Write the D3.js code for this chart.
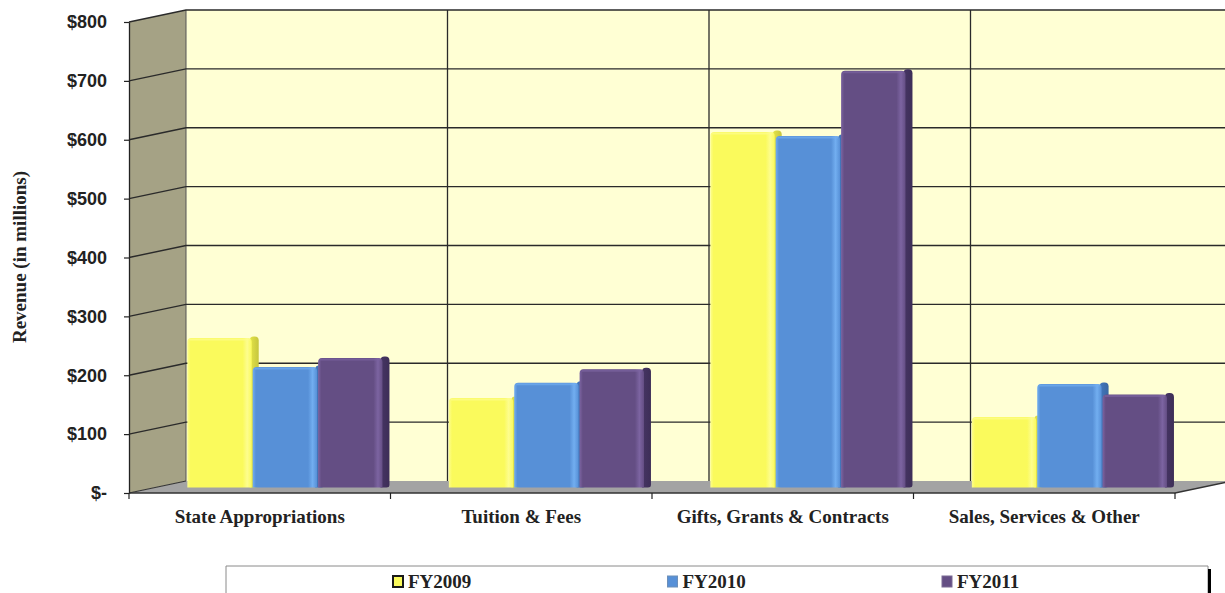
<!DOCTYPE html>
<html>
<head>
<meta charset="utf-8">
<script src="https://cdn.jsdelivr.net/npm/d3@7"></script>
<style>
  html, body { margin: 0; padding: 0; background: #fff; }
  svg { display: block; }
</style>
</head>
<body>
<svg id="chart" width="1225" height="593"></svg>
<script>
// Revenue by source, in millions of dollars
const categories = ["State Appropriations", "Tuition & Fees", "Gifts, Grants & Contracts", "Sales, Services & Other"];
const seriesNames = ["FY2009", "FY2010", "FY2011"];
const fy2009 = [254, 152, 604, 120];
const fy2010 = [205, 178, 597, 176];
const fy2011 = [220, 201, 708, 158];
const tickValues = [0, 100, 200, 300, 400, 500, 600, 700, 800];
const tickLabels = ["$-", "$100", "$200", "$300", "$400", "$500", "$600", "$700", "$800"];

// bar colours: body, highlight strip, side face, legend border
const bodyColors = ["#fafa5c", "#5790d7", "#644e84"];
const lightColors = ["#fdfd8e", "#72aef0", "#7c64a1"];
const sideColors = ["#c6c63e", "#3a68a4", "#3d2e57"];
const keyBorders = ["#1a1a1a", "#6d8fb8", "#7a6b94"];

const values = [fy2009, fy2010, fy2011];

const svg = d3.select("#chart");
const W = 1225, H = 593;

// plot frame (front plane) and 3-D depth offset of the back wall
const plotLeft = 129, plotRight = 1175, plotBottom = 493, plotTop = 22;
const depthX = 57, depthY = 12;
const barDepth = 0.45; // bars stand part-way into the floor

const y = d3.scaleLinear().domain([0, 800]).range([plotBottom, plotTop]);
const x = d3.scaleBand().domain(categories).range([plotLeft, plotRight])
  .paddingInner(0.25).paddingOuter(0.125);
const xs = d3.scaleBand().domain(seriesNames).range([0, x.bandwidth()]);

const back = (px, py) => [px + depthX, py - depthY];

// ---- gradients for bars
const defs = svg.append("defs");
seriesNames.forEach((s, i) => {
  const g = defs.append("linearGradient").attr("id", "front" + i)
    .attr("x1", 0).attr("x2", 1).attr("y1", 0).attr("y2", 0);
  g.append("stop").attr("offset", "0%").attr("stop-color", lightColors[i]);
  g.append("stop").attr("offset", "5%").attr("stop-color", bodyColors[i]);
  g.append("stop").attr("offset", "86%").attr("stop-color", bodyColors[i]);
  g.append("stop").attr("offset", "93%").attr("stop-color", lightColors[i]);
  g.append("stop").attr("offset", "100%").attr("stop-color", bodyColors[i]);
  const sg = defs.append("linearGradient").attr("id", "side" + i)
    .attr("x1", 0).attr("x2", 1).attr("y1", 0).attr("y2", 0);
  sg.append("stop").attr("offset", "0%").attr("stop-color", d3.color(sideColors[i]).brighter(0.4));
  sg.append("stop").attr("offset", "100%").attr("stop-color", sideColors[i]);
});

// ---- walls and floor
const wallG = svg.append("g");
const [bl0x, bl0y] = back(plotLeft, y(0));
const [bltx, blty] = back(plotLeft, y(800));

// back wall
wallG.append("rect")
  .attr("x", bl0x).attr("y", blty)
  .attr("width", W - bl0x + 60).attr("height", bl0y - blty)
  .attr("fill", "#ffffd4");

// left side wall
wallG.append("path")
  .attr("d", d3.line()([[plotLeft, y(800)], [bltx, blty], [bl0x, bl0y], [plotLeft, y(0)]]) + "Z")
  .attr("fill", "#a5a285");

// floor
const [brx, bry] = back(plotRight, y(0));
wallG.append("path")
  .attr("d", d3.line()([[plotLeft, y(0)], [plotRight, y(0)], [brx, bry], [bl0x, bl0y]]) + "Z")
  .attr("fill", "#a3a3a3");

// vertical dividers on the back wall at category boundaries
const boundaries = d3.range(categories.length + 1).map(i => plotLeft + i * x.step());
boundaries.slice(1).forEach(bx => {
  const [vx, vy0] = back(bx, y(0));
  const [, vy1] = back(bx, y(800));
  wallG.append("line")
    .attr("x1", vx).attr("x2", vx).attr("y1", vy0).attr("y2", vy1)
    .attr("stroke", "#2a2a2a").attr("stroke-width", 1.3);
});

// back wall left edge
wallG.append("line")
  .attr("x1", bl0x).attr("x2", bl0x).attr("y1", bl0y).attr("y2", blty)
  .attr("stroke", "#555").attr("stroke-width", 1);

// horizontal gridlines: across the left wall and along the back wall
tickValues.filter(v => v > 0).forEach(v => {
  const [gx, gy] = back(plotLeft, y(v));
  wallG.append("path")
    .attr("d", d3.line()([[plotLeft, y(v)], [gx, gy], [W + 10, gy]]))
    .attr("fill", "none").attr("stroke", "#2a2a2a").attr("stroke-width", 1.4);
});

// floor front edge and right slant
wallG.append("path")
  .attr("d", d3.line()([[plotLeft, y(0)], [plotRight, y(0)], [brx, bry]]))
  .attr("fill", "none").attr("stroke", "#333").attr("stroke-width", 1.3);
wallG.append("line")
  .attr("x1", plotLeft).attr("x2", bl0x).attr("y1", y(0)).attr("y2", bl0y)
  .attr("stroke", "#333").attr("stroke-width", 1.2);

// ---- value axis
const yAxis = d3.axisLeft(y)
  .tickValues(tickValues)
  .tickFormat((d, i) => tickLabels[i])
  .tickSizeInner(5).tickSizeOuter(0).tickPadding(17);
const yAxisG = svg.append("g").attr("transform", `translate(${plotLeft},0)`).call(yAxis);
yAxisG.select(".domain").attr("stroke", "#222").attr("stroke-width", 1.3);
yAxisG.selectAll(".tick line").attr("stroke", "#222").attr("stroke-width", 1.2);
yAxisG.selectAll(".tick text")
  .attr("font-family", "'Liberation Sans', Arial, sans-serif")
  .attr("font-weight", "bold").attr("font-size", 18).attr("fill", "#222");

// ---- category axis (labels centred on groups, ticks on boundaries)
const xAxis = d3.axisBottom(x).tickSize(0).tickPadding(16.5);
const xAxisG = svg.append("g").attr("transform", `translate(0,${plotBottom})`).call(xAxis);
xAxisG.select(".domain").remove();
xAxisG.selectAll(".tick text")
  .attr("font-family", "'Liberation Serif', 'Times New Roman', serif")
  .attr("font-weight", "bold").attr("font-size", 19).attr("fill", "#222");
xAxisG.selectAll(".boundary").data(boundaries).enter().append("line")
  .attr("class", "boundary")
  .attr("x1", d => d).attr("x2", d => d).attr("y1", 0).attr("y2", 6)
  .attr("stroke", "#222").attr("stroke-width", 1.2);

// value axis title
svg.append("text")
  .attr("transform", "translate(26,257) rotate(-90)")
  .attr("text-anchor", "middle")
  .attr("font-family", "'Liberation Serif', 'Times New Roman', serif")
  .attr("font-weight", "bold").attr("font-size", 19).attr("fill", "#222")
  .text("Revenue (in millions)");

// ---- bars
const bdx = barDepth * depthX, bdy = barDepth * depthY;
const sideW = 7, sideRise = 1.5;
const barsG = svg.append("g");
categories.forEach((cat, ci) => {
  seriesNames.forEach((s, si) => {
    const v = values[si][ci];
    const x0 = x(cat) + xs(s) + bdx;
    const w = xs.bandwidth() - 1;
    const yb = y(0) - bdy;
    const yt = y(v) - bdy;
    const r = 4;
    const g = barsG.append("g");
    // right side face
    g.append("path")
      .attr("d", `M${x0 + w - 2},${yb} L${x0 + w - 2},${yt - sideRise + r}
                  Q${x0 + w - 2},${yt - sideRise} ${x0 + w + 2},${yt - sideRise}
                  L${x0 + w + sideW - r},${yt - sideRise}
                  Q${x0 + w + sideW},${yt - sideRise} ${x0 + w + sideW},${yt - sideRise + r}
                  L${x0 + w + sideW},${yb - sideRise - 1}
                  Q${x0 + w + sideW},${yb} ${x0 + w + sideW - 3},${yb} Z`)
      .attr("fill", `url(#side${si})`);
    // front face
    g.append("path")
      .attr("d", `M${x0},${yb} L${x0},${yt + r} Q${x0},${yt} ${x0 + r},${yt}
                  L${x0 + w - r},${yt} Q${x0 + w},${yt} ${x0 + w},${yt + r}
                  L${x0 + w},${yb} Z`)
      .attr("fill", `url(#front${si})`);
    // soft top highlight
    g.append("path")
      .attr("d", `M${x0 + 2},${yt + 1.5} L${x0 + w - 2},${yt + 1.5}`)
      .attr("stroke", lightColors[si]).attr("stroke-width", 2).attr("opacity", 0.7);
  });
});

// ---- legend
const legendG = svg.append("g");
const lgLeft = 226, lgRight = 1208, lgTop = 566;
legendG.append("path")
  .attr("d", d3.line()([[lgLeft, H + 5], [lgLeft, lgTop], [lgRight, lgTop], [lgRight, H + 5]]))
  .attr("fill", "#fff").attr("stroke", "#8a8a8a").attr("stroke-width", 1);
legendG.append("line")
  .attr("x1", lgRight + 1.5).attr("x2", lgRight + 1.5).attr("y1", lgTop + 3).attr("y2", H + 5)
  .attr("stroke", "#000").attr("stroke-width", 3);

const keyX = d3.scalePoint().domain(seriesNames).range([392, 941]);
seriesNames.forEach((s, i) => {
  const kx = keyX(s);
  legendG.append("rect")
    .attr("x", kx + 1).attr("y", 576).attr("width", 10).attr("height", 11)
    .attr("fill", bodyColors[i])
    .attr("stroke", keyBorders[i]).attr("stroke-width", i === 0 ? 2 : 1);
  legendG.append("text")
    .attr("x", kx + 16).attr("y", 588)
    .attr("font-family", "'Liberation Serif', 'Times New Roman', serif")
    .attr("font-weight", "bold").attr("font-size", 19).attr("fill", "#222")
    .text(s);
});
</script>
</body>
</html>
